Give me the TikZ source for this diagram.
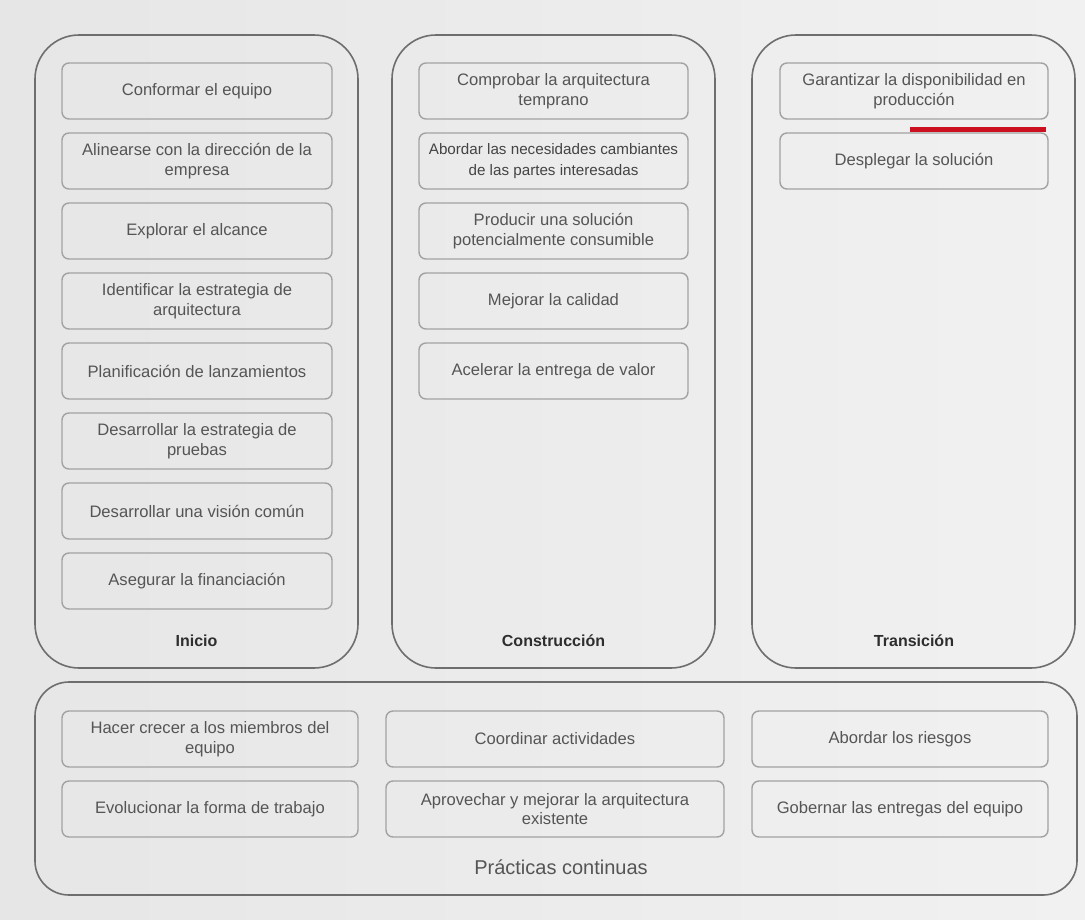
\documentclass[tikz,border=0pt]{standalone}
\usepackage{fontspec}
\setmainfont{Liberation Sans}
\definecolor{bgA}{HTML}{E6E6E6}
\definecolor{bgB}{HTML}{F1F1F1}
\definecolor{outerline}{HTML}{6E6E6E}
\definecolor{innerline}{HTML}{A2A2A2}
\definecolor{txt}{HTML}{555555}
\definecolor{lbl}{HTML}{2E2E2E}
\definecolor{redbar}{HTML}{CC1020}
\tikzset{
  phase/.style={draw=outerline, line width=1.6pt, rounded corners=44pt, minimum width=323pt, minimum height=633pt, inner sep=0pt},
  contbox/.style={draw=outerline, line width=1.6pt, rounded corners=34pt, minimum width=1042pt, minimum height=213pt, inner sep=0pt},
  task/.style={draw=innerline, line width=1.4pt, rounded corners=7pt, minimum height=56pt, inner sep=0pt, align=center, text=txt, font=\fontsize{16.6}{19.5}\selectfont},
  phaselabel/.style={text=lbl, font=\fontsize{16}{19}\selectfont\bfseries, inner sep=0pt},
}
\begin{document}
\begin{tikzpicture}[x=1pt,y=-1pt]
\useasboundingbox (0,0) rectangle (1085,919);
\shade[left color=bgA, right color=bgB] (0,0) rectangle (1085,919);

% phase containers
\node[phase] (inicio) at (196.5,351.5) {};
\node[phase] (constr) at (553.5,351.5) {};
\node[phase] (trans) at (913.5,351.5) {};
\node[contbox] (cont) at (556,788.5) {};

% Inicio
\node[task, minimum width=270pt] (i1) at (197,91) {Conformar el equipo};
\node[task, minimum width=270pt] (i2) at (197,161) {Alinearse con la dirección de la\\empresa};
\node[task, minimum width=270pt] (i3) at (197,231) {Explorar el alcance};
\node[task, minimum width=270pt] (i4) at (197,301) {Identificar la estrategia de\\arquitectura};
\node[task, minimum width=270pt] (i5) at (197,371) {Planificación de lanzamientos};
\node[task, minimum width=270pt] (i6) at (197,441) {Desarrollar la estrategia de\\pruebas};
\node[task, minimum width=270pt] (i7) at (197,511) {Desarrollar una visión común};
\node[task, minimum width=270pt] (i8) at (197,581) {Asegurar la financiación};
\node[phaselabel] (linicio) at (196.5,641) {Inicio};

% Construccion
\node[task, minimum width=269pt] (c1) at (553.5,91) {Comprobar la arquitectura\\temprano};
\node[task, minimum width=269pt, font=\fontsize{15.2}{21.5}\selectfont, text=txt!80!black] (c2) at (553.5,161) {Abordar las necesidades cambiantes\\de las partes interesadas};
\node[task, minimum width=269pt] (c3) at (553.5,231) {Producir una solución\\potencialmente consumible};
\node[task, minimum width=269pt] (c4) at (553.5,301) {Mejorar la calidad};
\node[task, minimum width=269pt] (c5) at (553.5,371) {Acelerar la entrega de valor};
\node[phaselabel] (lconstr) at (553.5,641) {Construcción};

% Transicion
\node[task, minimum width=268pt] (t1) at (914,91) {Garantizar la disponibilidad en\\producción};
\node[task, minimum width=268pt] (t2) at (914,161) {Desplegar la solución};
\node[fill=redbar, minimum width=136pt, minimum height=5pt, inner sep=0pt] (red) at (978,129.5) {};
\node[phaselabel] (ltrans) at (914,641) {Transición};

% Practicas continuas
\node[task, minimum width=296pt] (p1) at (210,739) {Hacer crecer a los miembros del\\equipo};
\node[task, minimum width=338pt] (p2) at (555,739) {Coordinar actividades};
\node[task, minimum width=296pt] (p3) at (900,739) {Abordar los riesgos};
\node[task, minimum width=296pt] (p4) at (210,809) {Evolucionar la forma de trabajo};
\node[task, minimum width=338pt] (p5) at (555,809) {Aprovechar y mejorar la arquitectura\\existente};
\node[task, minimum width=296pt] (p6) at (900,809) {Gobernar las entregas del equipo};
\node[text=txt, font=\fontsize{20}{24}\selectfont, inner sep=0pt] (lcont) at (561,867) {Prácticas continuas};
\end{tikzpicture}
\end{document}
